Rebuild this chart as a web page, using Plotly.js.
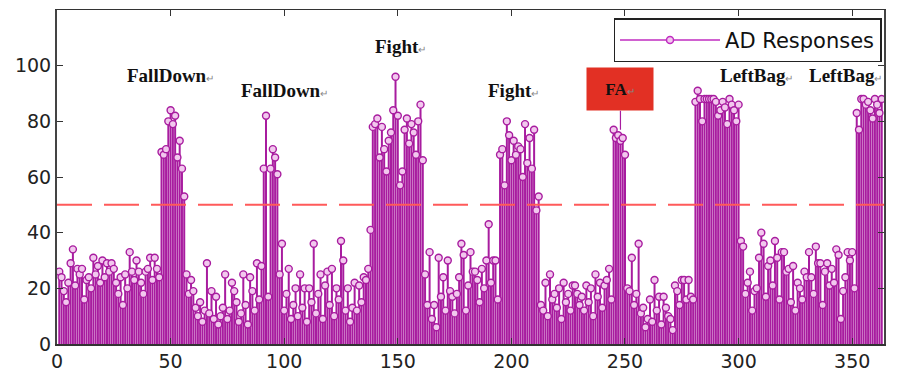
<!DOCTYPE html>
<html>
<head>
<meta charset="utf-8">
<script src="https://cdn.plot.ly/plotly-3.0.1.min.js"></script>
<style>html,body{margin:0;padding:0;background:#fff;}#chart{width:901px;height:376px;}</style>
</head>
<body>
<div id="chart"></div>
<script>
// Sample responses (index 1..363)
const responses = [
  26,24,19,15,22,29,34,21,27,25,
  27,16,23,24,20,31,25,28,22,30,
  24,29,26,29,27,22,18,24,14,25,
  20,33,26,23,30,26,22,18,26,27,
  31,23,31,27,24,69,68,70,80,84,
  79,82,67,73,63,53,25,18,23,19,
  13,10,15,8,12,29,11,19,9,17,
  7,10,13,25,9,12,22,19,15,8,
  11,25,14,7,24,19,12,29,16,28,
  63,82,17,63,70,67,61,25,36,12,
  18,27,9,14,20,10,25,13,20,8,
  20,15,36,11,18,25,9,21,26,14,
  27,10,20,16,37,30,12,20,8,13,
  22,12,21,15,24,23,27,41,78,79,
  81,67,78,70,62,73,76,84,96,82,
  57,62,77,81,72,79,76,68,80,86,
  66,25,14,33,9,14,6,31,17,24,
  12,30,19,17,11,18,24,36,32,12,
  21,33,26,26,23,15,27,20,30,43,
  22,30,30,16,68,70,57,80,75,66,
  73,68,71,70,60,79,65,74,63,77,
  48,53,14,12,22,10,25,16,18,13,
  20,9,22,15,18,12,21,21,18,14,
  17,12,21,15,20,10,25,17,22,13,
  21,23,27,16,77,74,75,73,74,68,
  20,19,31,14,18,36,11,13,6,9,
  16,8,23,12,17,7,17,13,10,9,
  5,21,19,14,23,23,16,23,17,16,
  87,91,88,80,88,88,88,88,88,87,
  82,84,87,85,79,88,86,84,80,86,
  37,35,18,22,26,12,19,20,31,40,
  36,17,28,30,21,37,31,16,33,33,
  26,27,15,28,12,22,20,16,26,24,
  33,24,18,35,29,29,14,26,29,21,
  27,22,34,32,9,19,24,33,30,33,
  20,83,77,88,88,86,87,84,81,88,
  86,83,88
];
const sampleIndex = responses.map((_, i) => i + 1);
const threshold = 50;
const seriesName = 'AD Responses';
const eventLabels = ['FallDown', 'FallDown', 'Fight', 'Fight', 'FA', 'LeftBag', 'LeftBag'];
const eventX = [50, 100, 151, 201, 248, 308, 347];
const eventY = [96.5, 91, 107, 91, 91.5, 96.5, 96.5];
const faPeak = 77;
const xTicks = [0, 50, 100, 150, 200, 250, 300, 350];
const yTicks = [0, 20, 40, 60, 80, 100];

const purple = '#a81c9f';
const ret = "<span style='font-size:10px;color:#888'>↵</span>";

const traces = [
  {
    type: 'scatter', mode: 'markers',
    x: sampleIndex, y: responses,
    marker: { symbol: 'circle', size: 7, color: '#f2c8ee', line: { color: purple, width: 1.4 } },
    error_y: { type: 'data', symmetric: false, array: responses.map(() => 0), arrayminus: responses,
               color: purple, thickness: 2, width: 0 },
    showlegend: false, hoverinfo: 'x+y'
  },
  {
    type: 'scatter', mode: 'lines+markers', x: [null], y: [null], name: seriesName,
    line: { color: '#c02cc0', width: 1.5 },
    marker: { symbol: 'circle', size: 7, color: '#f2c8ee', line: { color: '#c02cc0', width: 1.5 } }
  }
];

const annotations = eventLabels.map((t, i) => {
  const a = {
    x: eventX[i], y: eventY[i], xref: 'x', yref: 'y',
    text: '<b>' + t + '</b>' + ret, showarrow: false,
    font: { family: 'Liberation Serif, Times New Roman, serif', size: 19, color: '#111' }
  };
  if (t === 'FA') {
    a.bgcolor = 'rgb(226,48,36)';
    a.width = 64; a.height = 40; a.borderpad = 1;
    a.font.size = 17;
    a.showarrow = true; a.arrowhead = 0; a.arrowwidth = 1.2; a.arrowcolor = purple;
    a.y = faPeak; a.axref = 'x'; a.ayref = 'y'; a.ax = eventX[i]; a.ay = eventY[i];
  }
  return a;
});

const layout = {
  width: 901, height: 376,
  margin: { l: 57, r: 17, t: 10, b: 32 },
  paper_bgcolor: '#fff', plot_bgcolor: '#fff',
  font: { family: 'DejaVu Sans, Liberation Sans, Arial, sans-serif', size: 18, color: '#222' },
  xaxis: {
    range: [0, 364], tickvals: xTicks, ticks: 'inside', ticklen: 6, tickcolor: '#333',
    showline: true, linecolor: '#333', linewidth: 1.5, mirror: 'ticks',
    showgrid: false, zeroline: false, tickfont: { size: 19 }
  },
  yaxis: {
    range: [0, 120], tickvals: yTicks, ticks: 'inside', ticklen: 6, tickcolor: '#333',
    showline: true, linecolor: '#444', linewidth: 2, mirror: 'ticks',
    showgrid: false, zeroline: false, tickfont: { size: 19 }
  },
  shapes: [{
    type: 'line', xref: 'paper', x0: 0, x1: 1, yref: 'y', y0: threshold, y1: threshold,
    line: { color: 'rgb(255,90,90)', width: 2, dash: '35px,12px' }
  }],
  legend: {
    x: 0.997, y: 0.975, xanchor: 'right', yanchor: 'top',
    bordercolor: '#222', borderwidth: 1.5, bgcolor: '#fff',
    font: { size: 21, color: '#111' }, itemwidth: 100
  },
  annotations: annotations
};

Plotly.newPlot('chart', traces, layout, { displayModeBar: false, staticPlot: true });
</script>
</body>
</html>
